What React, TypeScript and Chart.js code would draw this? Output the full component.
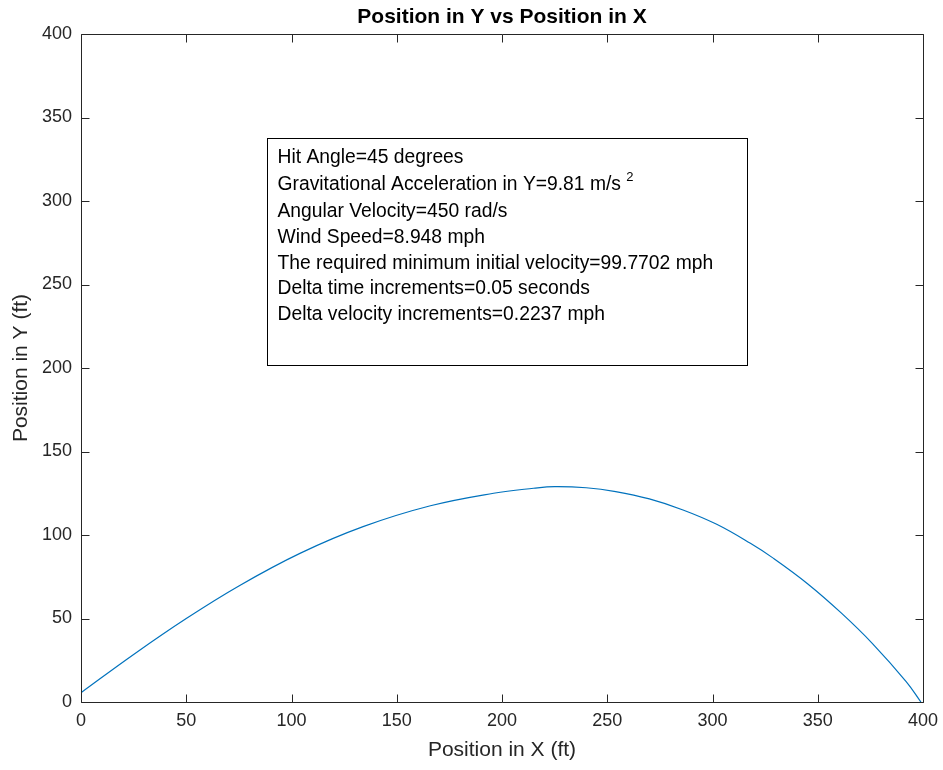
import React, { useEffect, useRef } from 'react';
import { Chart, registerables } from 'chart.js';

Chart.register(...registerables);

// ---- Data ----
const xPositions = [0, 25, 50, 75, 104, 134, 166, 196, 215, 225, 240, 254, 270, 286, 302, 318, 329, 345, 361, 376, 392, 399];
const yPositions = [5.6, 28.5, 50, 69.5, 89, 105, 117.5, 125, 128, 129, 128.3, 126, 121.6, 115, 106.4, 95, 86, 71, 53.5, 35, 12.2, 0];

const xTickValues = [0, 50, 100, 150, 200, 250, 300, 350, 400];
const yTickValues = [0, 50, 100, 150, 200, 250, 300, 350, 400];

const chartTitle = 'Position in Y vs Position in X';
const xAxisLabel = 'Position in X (ft)';
const yAxisLabel = 'Position in Y (ft)';

const infoLines = [
  'Hit Angle=45 degrees',
  'Gravitational Acceleration in Y=9.81 m/s ',
  'Angular Velocity=450 rad/s',
  'Wind Speed=8.948 mph',
  'The required minimum initial velocity=99.7702 mph',
  'Delta time increments=0.05 seconds',
  'Delta velocity increments=0.2237 mph',
];
const infoSuperscripts = ['', '2', '', '', '', '', ''];

// ---- Styling / layout ----
const FONT = '"Liberation Sans", Arial, Helvetica, sans-serif';
const AXIS_COLOR = '#262626';
const LINE_COLOR = '#0072BD';
// info box placement in axis data units
const BOX = { x0: 88.2, x1: 316.2, yTop: 337.5, yBottom: 201.8 };

const framePlugin = {
  id: 'matlabFrame',
  afterDraw(chart: any) {
    const { ctx, chartArea: a, scales } = chart;
    const xs = scales.x;
    const ys = scales.y;
    ctx.save();

    // title centred over the axes
    ctx.fillStyle = '#000000';
    ctx.font = `bold 21px ${FONT}`;
    ctx.textAlign = 'center';
    ctx.textBaseline = 'middle';
    ctx.fillText(chartTitle, (a.left + a.right) / 2, a.top - 17);

    ctx.strokeStyle = AXIS_COLOR;
    ctx.lineWidth = 1;
    const L = Math.round(a.left) + 0.5;
    const T = Math.round(a.top) + 0.5;
    const R = Math.round(a.right) + 0.5;
    const B = Math.round(a.bottom) + 0.5;
    ctx.beginPath();
    ctx.rect(L, T, R - L, B - T);
    const tl = 8;
    xTickValues.forEach((v) => {
      const px = Math.round(xs.getPixelForValue(v)) + 0.5;
      ctx.moveTo(px, B);
      ctx.lineTo(px, B - tl);
      ctx.moveTo(px, T);
      ctx.lineTo(px, T + tl);
    });
    yTickValues.forEach((v) => {
      const py = Math.round(ys.getPixelForValue(v)) + 0.5;
      ctx.moveTo(L, py);
      ctx.lineTo(L + tl, py);
      ctx.moveTo(R, py);
      ctx.lineTo(R - tl, py);
    });
    ctx.stroke();

    // info text box
    const bx0 = Math.round(xs.getPixelForValue(BOX.x0)) + 0.5;
    const bx1 = Math.round(xs.getPixelForValue(BOX.x1)) + 0.5;
    const by0 = Math.round(ys.getPixelForValue(BOX.yTop)) + 0.5;
    const by1 = Math.round(ys.getPixelForValue(BOX.yBottom)) + 0.5;
    ctx.fillStyle = '#ffffff';
    ctx.fillRect(bx0, by0, bx1 - bx0, by1 - by0);
    ctx.strokeStyle = '#000000';
    ctx.strokeRect(bx0, by0, bx1 - bx0, by1 - by0);

    ctx.fillStyle = '#000000';
    ctx.textBaseline = 'middle';
    ctx.textAlign = 'left';
    const lineYs = [19, 46.5, 73, 99, 125, 150.5, 176];
    infoLines.forEach((line, i) => {
      ctx.font = `19.3px ${FONT}`;
      const ty = by0 + lineYs[i];
      const tx = bx0 + 10;
      ctx.fillText(line, tx, ty);
      if (infoSuperscripts[i]) {
        const w = ctx.measureText(line).width;
        ctx.font = `13px ${FONT}`;
        ctx.fillText(infoSuperscripts[i], tx + w, ty - 8);
      }
    });
    ctx.restore();
  },
};

export default function App() {
  const canvasRef = useRef<HTMLCanvasElement | null>(null);

  useEffect(() => {
    document.body.style.margin = '0';
    const canvas = canvasRef.current;
    if (!canvas) return;
    Chart.defaults.font.family = FONT;
    const chart = new Chart(canvas, {
      type: 'line',
      data: {
        datasets: [
          {
            data: xPositions.map((x, i) => ({ x, y: yPositions[i] })),
            borderColor: LINE_COLOR,
            borderWidth: 1.2,
            pointRadius: 0,
            fill: false,
            tension: 0.4,
          },
        ],
      },
      options: {
        animation: false,
        responsive: false,
        devicePixelRatio: 1,
        layout: { padding: { left: 0, right: 20, top: 34, bottom: 0 } },
        plugins: {
          legend: { display: false },
          tooltip: { enabled: false },
          title: { display: false },
        },
        scales: {
          x: {
            type: 'linear',
            min: 0,
            max: 400,
            afterFit: (s: any) => {
              s.height = 68;
              s.paddingLeft = 0;
              s.paddingRight = 0;
            },
            afterBuildTicks: (s: any) => {
              s.ticks = xTickValues.map((v) => ({ value: v }));
            },
            grid: { display: false, drawTicks: false },
            border: { display: false },
            ticks: {
              color: AXIS_COLOR,
              font: { size: 18, family: FONT },
              padding: 8,
              maxRotation: 0,
              autoSkip: false,
            },
            title: {
              display: true,
              text: xAxisLabel,
              color: AXIS_COLOR,
              font: { size: 21, family: FONT },
              padding: { top: 0, bottom: 7.4 },
            },
          },
          y: {
            type: 'linear',
            min: 0,
            max: 400,
            afterFit: (s: any) => {
              s.width = 81;
              s.paddingTop = 0;
              s.paddingBottom = 0;
            },
            afterBuildTicks: (s: any) => {
              s.ticks = yTickValues.map((v) => ({ value: v }));
            },
            grid: { display: false, drawTicks: false },
            border: { display: false },
            ticks: {
              color: AXIS_COLOR,
              font: { size: 18, family: FONT },
              padding: 9,
              autoSkip: false,
            },
            title: {
              display: true,
              text: yAxisLabel,
              color: AXIS_COLOR,
              font: { size: 21, family: FONT },
              padding: { top: 9, bottom: 0 },
            },
          },
        },
      },
      plugins: [framePlugin],
    } as any);
    return () => chart.destroy();
  }, []);

  return (
    <div style={{ width: 943, height: 770, background: '#ffffff' }}>
      <canvas ref={canvasRef} width={943} height={770} style={{ display: 'block' }} />
    </div>
  );
}
